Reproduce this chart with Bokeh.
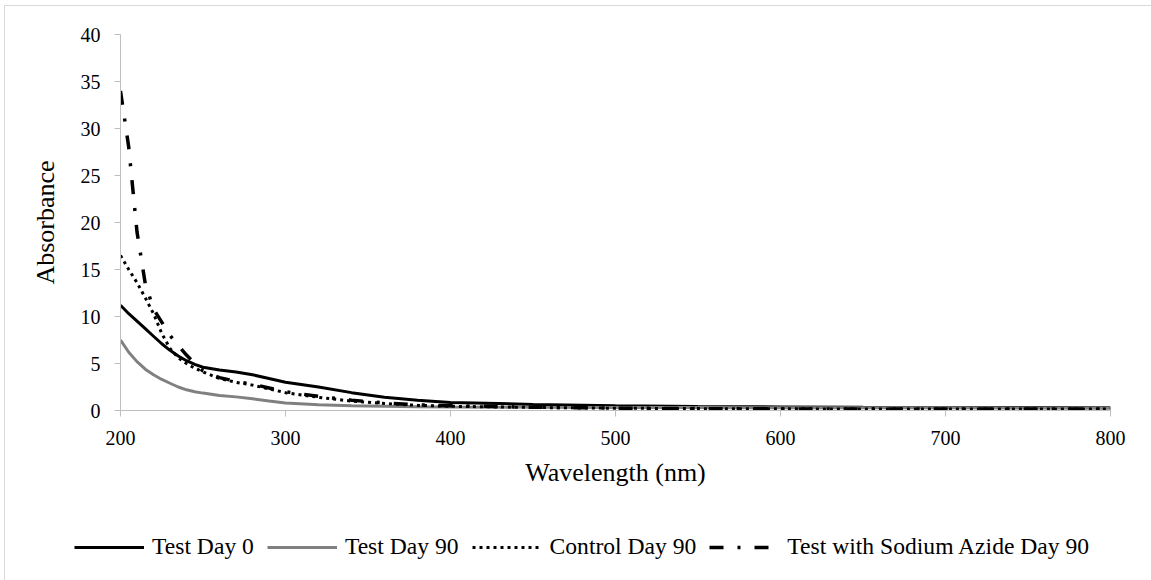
from bokeh.plotting import figure
from bokeh.models import Legend, LegendItem, Range1d, FixedTicker
from bokeh.layouts import column
from bokeh.embed import file_html
from bokeh.resources import INLINE

wavelength = [200, 205, 210, 215, 220, 225, 230, 235, 240, 245, 250, 260, 270, 280, 290,
              300, 320, 340, 360, 380, 400, 450, 500, 550, 600, 650, 700, 750, 800]
test_day0 = [11.2, 10.3, 9.5, 8.7, 7.9, 7.1, 6.4, 5.8, 5.3, 4.9, 4.6, 4.3, 4.1, 3.8, 3.4,
             3.0, 2.5, 1.9, 1.4, 1.1, 0.85, 0.65, 0.5, 0.42, 0.38, 0.35, 0.33, 0.31, 0.3]
test_day90 = [7.5, 6.2, 5.2, 4.4, 3.8, 3.3, 2.9, 2.5, 2.2, 2.0, 1.85, 1.6, 1.45, 1.25, 1.0,
              0.8, 0.6, 0.5, 0.45, 0.4, 0.38, 0.35, 0.33, 0.32, 0.3, 0.3, 0.28, 0.27, 0.26]
control_day90 = [16.5, 15.0, 13.6, 12.0, 10.3, 8.2, 6.6, 5.6, 5.0, 4.5, 4.1, 3.4, 3.0, 2.7, 2.3,
                 1.9, 1.4, 1.0, 0.75, 0.55, 0.45, 0.32, 0.24, 0.2, 0.18, 0.16, 0.15, 0.15, 0.15]
azide_day90 = [34.0, 28.0, 19.0, 13.5, 10.8, 9.4, 8.0, 6.9, 5.9, 5.0, 4.2, 3.5, 3.1, 2.8, 2.4,
               2.0, 1.5, 1.1, 0.8, 0.6, 0.5, 0.35, 0.25, 0.2, 0.17, 0.16, 0.15, 0.15, 0.15]
series_labels = ["Test Day 0", "Test Day 90", "Control Day 90", "Test with Sodium Azide Day 90"]
x_ticks = [200, 300, 400, 500, 600, 700, 800]
y_ticks = [0, 5, 10, 15, 20, 25, 30, 35, 40]

FONT = "Liberation Serif"
STYLES = [dict(line_color="black", line_width=3),
          dict(line_color="#808080", line_width=3),
          dict(line_color="black", line_width=3, line_dash="3 4"),
          dict(line_color="black", line_width=3.5, line_dash="14 14 3 14")]

p = figure(width=1146, height=494, output_backend="svg", toolbar_location=None,
           x_range=Range1d(200, 800), y_range=Range1d(0, 40),
           min_border_left=115, min_border_right=41, min_border_top=28,
           min_border_bottom=90)
p.frame_align = False
p.grid.visible = False
p.outline_line_color = None

for ax in (p.xaxis[0], p.yaxis[0]):
    ax.axis_line_color = "#bfbfbf"
    ax.axis_line_width = 1
    ax.major_tick_line_color = "#bfbfbf"
    ax.major_tick_out = 6
    ax.major_tick_in = 0
    ax.minor_tick_line_color = None
    ax.major_label_text_font = FONT
    ax.major_label_text_font_size = "20px"
    ax.major_label_text_color = "black"
    ax.axis_label_text_font = FONT
    ax.axis_label_text_font_size = "26px"
    ax.axis_label_text_font_style = "normal"
    ax.axis_label_text_color = "black"

p.xaxis.ticker = FixedTicker(ticks=x_ticks)
p.yaxis.ticker = FixedTicker(ticks=y_ticks)
p.xaxis.axis_label = "Wavelength (nm)"
p.yaxis.axis_label = "Absorbance"
p.xaxis.major_label_standoff = 14
p.xaxis.axis_label_standoff = 10
p.yaxis.major_label_standoff = 14
p.yaxis.axis_label_standoff = 18

series = [test_day0, test_day90, control_day90, azide_day90]
for vals, st in zip(series, STYLES):
    p.line(wavelength, vals, **st)

# legend strip below the chart (its renderers lie outside its visible range)
p2 = figure(width=1146, height=80, output_backend="svg", toolbar_location=None,
            x_range=Range1d(0, 1), y_range=Range1d(0, 1),
            x_axis_location=None, y_axis_location=None,
            min_border_left=0, min_border_right=0, min_border_top=0, min_border_bottom=0)
p2.frame_align = False
p2.grid.visible = False
p2.outline_line_color = None
items = []
for lab, vals, st in zip(series_labels, series, STYLES):
    r = p2.line(wavelength, vals, **st)
    items.append(LegendItem(label=lab, renderers=[r]))

legend = Legend(items=items, location=(69, 20), orientation="horizontal",
                glyph_width=70, label_standoff=8, spacing=13, padding=0, margin=0,
                border_line_color=None, background_fill_alpha=0,
                label_text_font=FONT, label_text_font_size="23.6px",
                label_text_color="black")
p2.add_layout(legend)

layout = column(p, p2, spacing=0,
                styles={"border-top": "1px solid #d9d9d9", "border-left": "1px solid #d9d9d9",
                        "margin-left": "4px", "margin-top": "5px"})
open("out.html", "w").write(file_html(layout, INLINE))
